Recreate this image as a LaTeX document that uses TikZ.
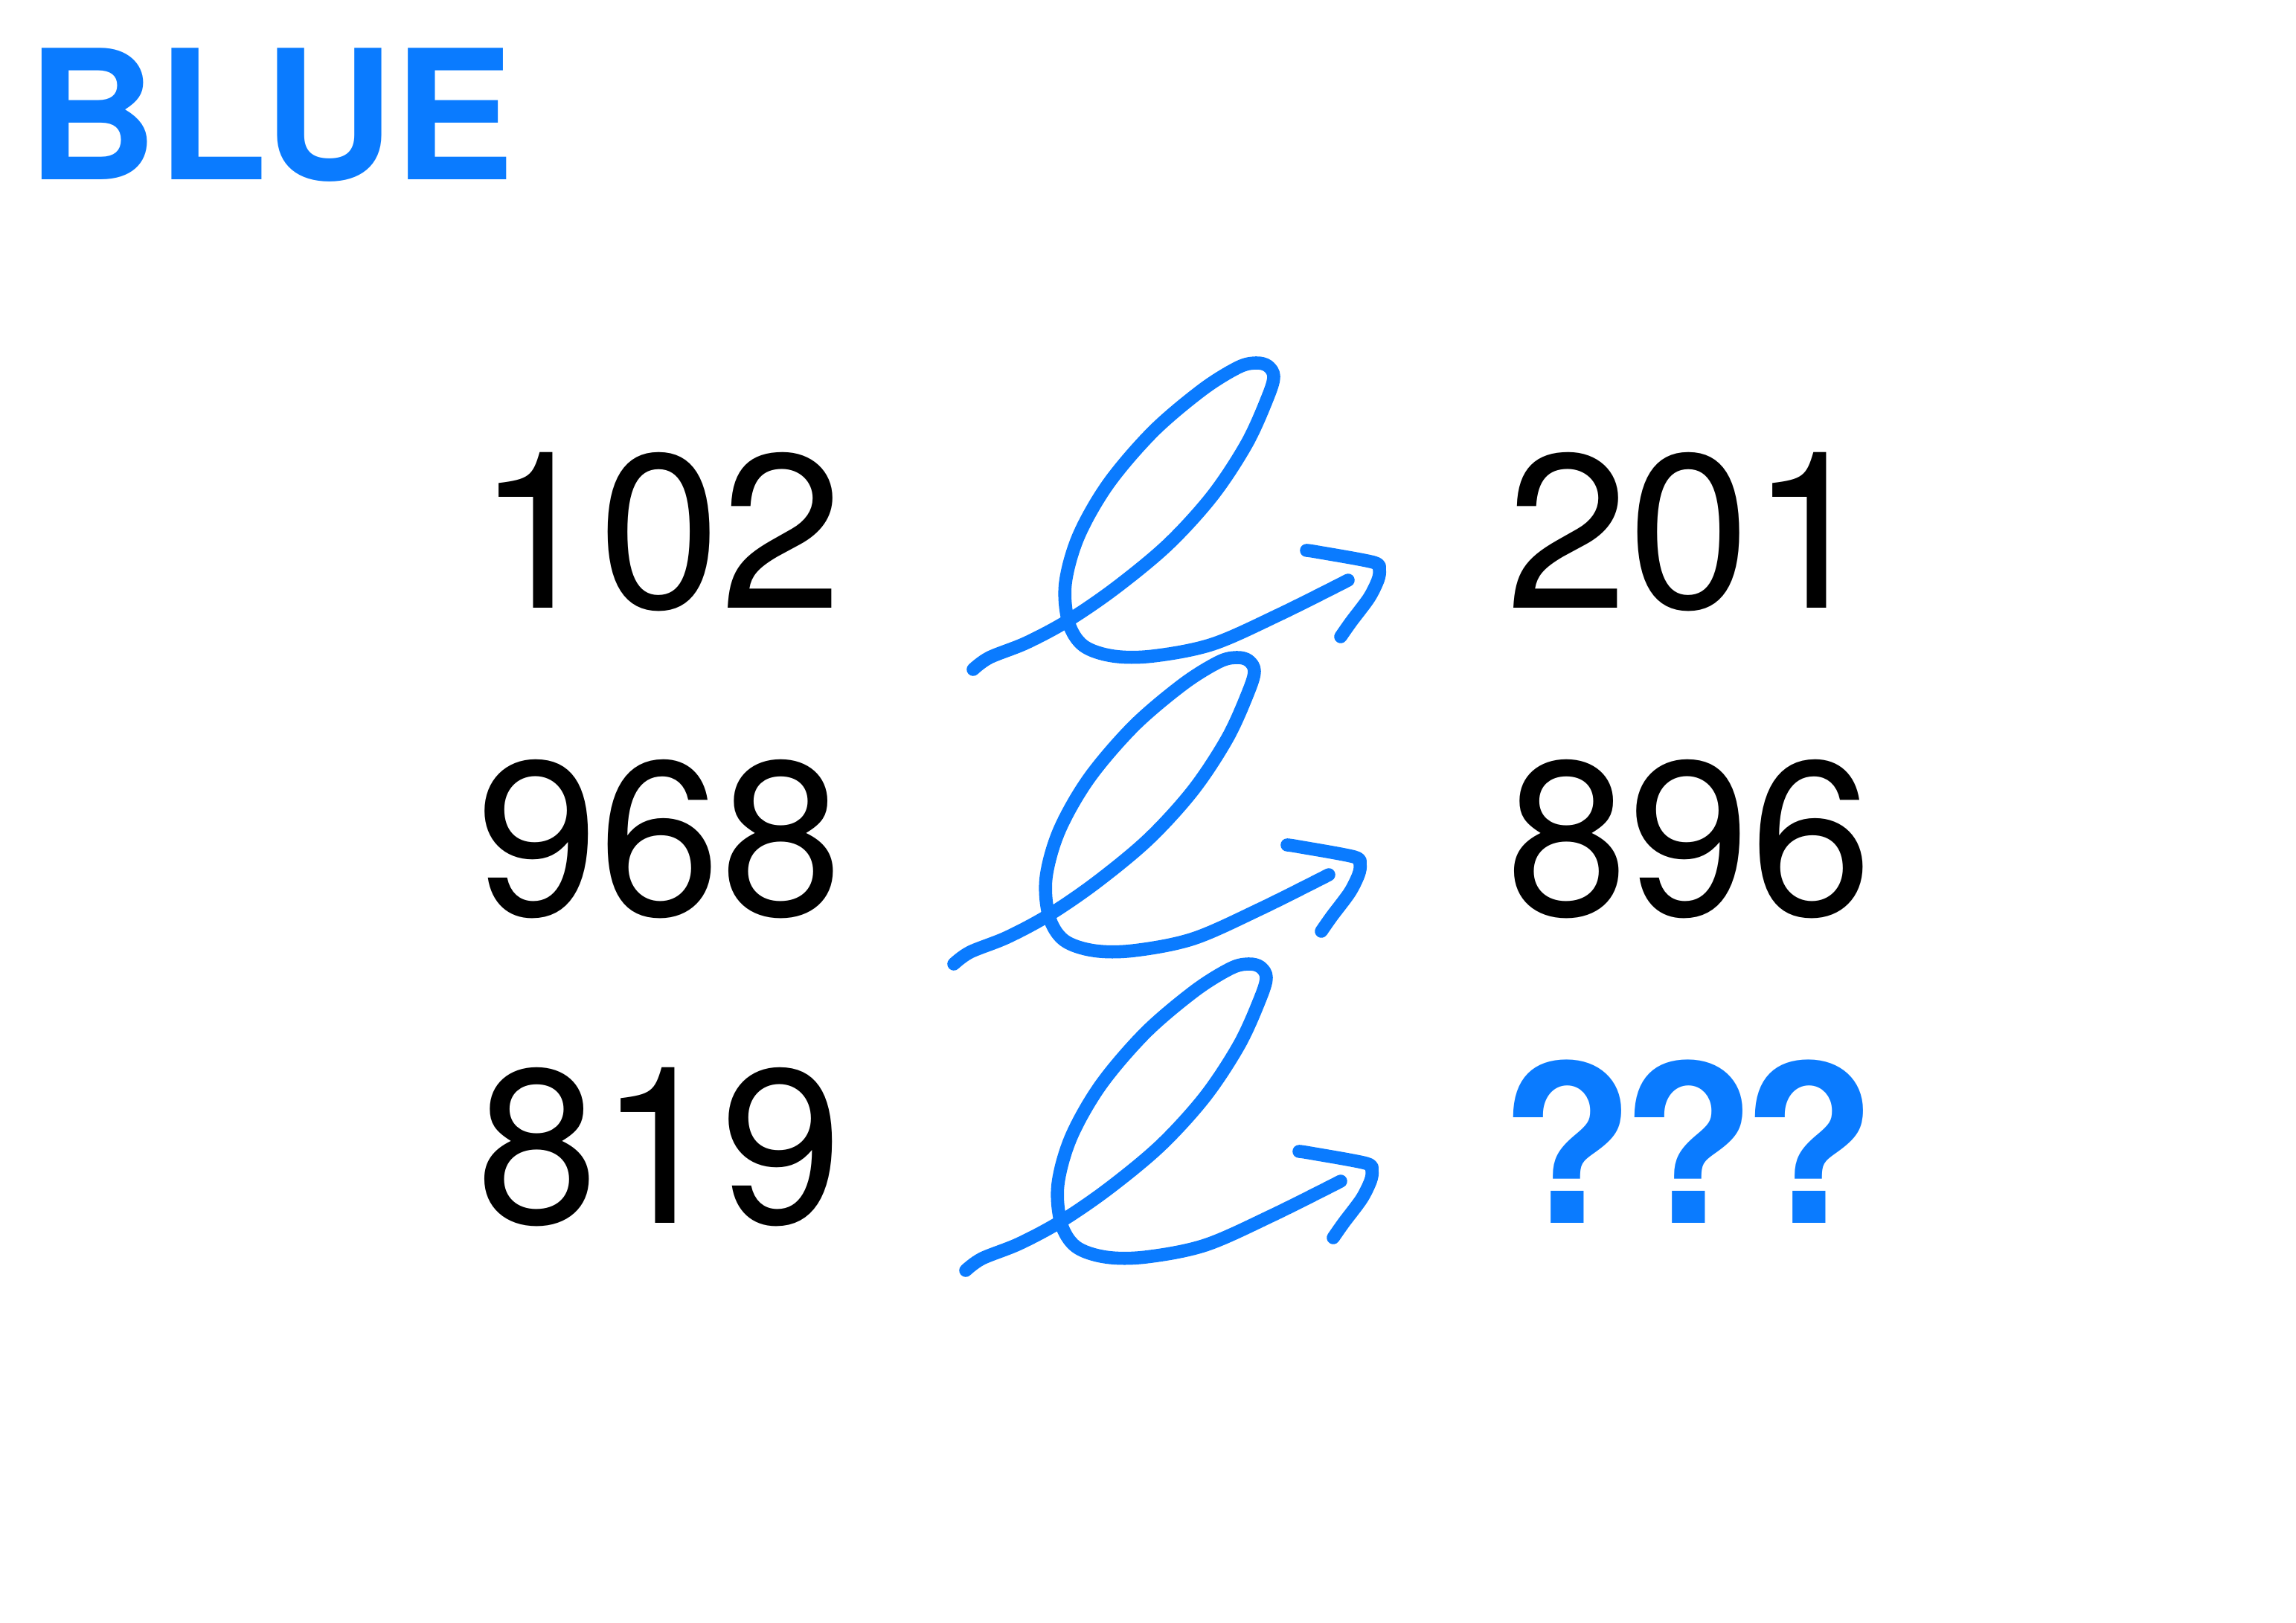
\documentclass[tikz,border=0pt]{standalone}
\usepackage{fontspec}
\setmainfont{TeX Gyre Heros}
\usepackage{xcolor}
\usepackage{tikz}
\usetikzlibrary{
    positioning
}
\definecolor{quizblue}{HTML}{0A7BFF}
\tikzset{
    % Big black number
    numtext/.style={
        anchor=base west,
        inner sep=0pt,
        text=black,
        font=\fontsize{84}{100}\selectfont
    },
    % Blue answer marks
    guesstext/.style={
        numtext,
        text=quizblue,
        font=\fontsize{84}{100}\selectfont\bfseries
    },
    % Title
    titletext/.style={
        anchor=base west,
        inner sep=0pt,
        text=quizblue,
        font=\fontsize{69}{80}\selectfont\bfseries
    },
    % Hand drawn stroke
    loopstroke/.style={
        draw=quizblue,
        line width=5pt,
        line cap=round,
        line join=round
    },
    % Looped arrow, origin at its tail
    looparrow/.pic={
        \draw[loopstroke] plot[smooth, tension=0.55] coordinates {
            (-1,1) (10,-7) (35,-17) (63,-32) (95,-54) (130,-83) (160,-116)
            (183,-151) (197,-182) (201,-196) (197,-203) (189,-205) (177,-202)
            (153,-187) (120,-159) (90,-124) (70,-89) (61,-57) (63,-31) (73,-15)
            (93,-8) (120,-8) (160,-16) (205,-36) (251,-59)};
        \draw[loopstroke] plot[smooth, tension=0.5] coordinates {
            (223,-79) (230,-78) (268,-71) (272,-66) (271,-59) (265,-47)
            (253,-31) (246,-21)};
    }
}
\begin{document}
\begin{tikzpicture}[x=0.02cm, y=-0.02cm]

    \useasboundingbox (0,0) rectangle (1543,1091);

    % Title
    \node[titletext] (title) at (18,121) {BLUE};

    % Left column
    \node[numtext] (left-a) at (320,409) {102};
    \node[numtext] (left-b) at (320,615) {968};
    \node[numtext] (left-c) at (320,822) {819};

    % Right column
    \node[numtext] (right-a) at (1012,409) {201};
    \node[numtext] (right-b) at (1012,615) {896};
    \node[guesstext] (right-c) at (1008,822) {?\kern-0.18cm?\kern-0.18cm?};

    % Looped arrows
    \pic (loop-a) at (655,449) {looparrow};
    \pic (loop-b) at (642,647) {looparrow};
    \pic (loop-c) at (650,853) {looparrow};

\end{tikzpicture}
\end{document}
